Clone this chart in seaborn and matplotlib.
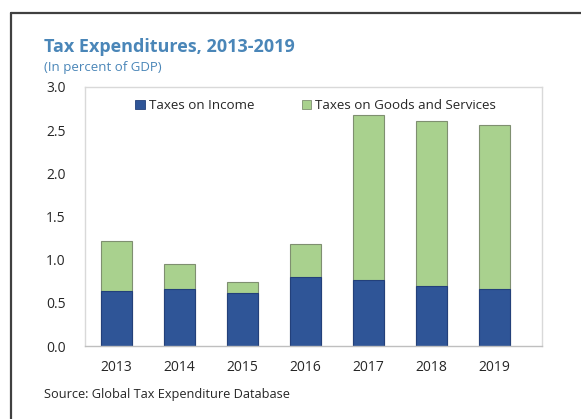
import matplotlib
matplotlib.use("Agg")
import matplotlib.pyplot as plt
from matplotlib.patches import Patch
from matplotlib.lines import Line2D
import seaborn as sns
import pandas as pd

years = ["2013", "2014", "2015", "2016", "2017", "2018", "2019"]
income = [0.64, 0.66, 0.61, 0.80, 0.77, 0.70, 0.66]
goods = [0.58, 0.29, 0.13, 0.38, 1.90, 1.91, 1.90]
y_ticks = [0.0, 0.5, 1.0, 1.5, 2.0, 2.5, 3.0]

sns.set_theme(style="white")
plt.rcParams["font.family"] = ["Open Sans", "DejaVu Sans"]

df = pd.DataFrame({"year": years, "income": income, "goods": goods})
df["total"] = df["income"] + df["goods"]

BLUE = "#2F5597"
GREEN = "#A9D18E"
TITLE = "#4A86B8"
TEXT = "#262626"

fig = plt.figure(figsize=(5.81, 4.19), dpi=100)
ax = fig.add_axes([0.1463, 0.1742, 0.7866, 0.6182])

# stacked bars: full height in green, income segment drawn over it in blue
sns.barplot(data=df, x="year", y="total", color=GREEN, width=0.5,
            edgecolor="#7F8F70", linewidth=0.8, saturation=1, ax=ax)
sns.barplot(data=df, x="year", y="income", color=BLUE, width=0.5,
            edgecolor="#23407A", linewidth=0.8, saturation=1, ax=ax)

ax.set_ylim(0, 3.0)
ax.set_xlim(-0.5, 6.75)
ax.set_yticks(y_ticks)
ax.set_yticklabels([f"{v:.1f}" for v in y_ticks])
ax.set_xlabel("")
ax.set_ylabel("")
ax.tick_params(axis="both", length=0, labelsize=10, colors=TEXT)
ax.tick_params(axis="x", pad=10)
ax.tick_params(axis="y", pad=14)
for s in ax.spines.values():
    s.set_visible(True)
    s.set_color("#D9D9D9")
    s.set_linewidth(1.0)
ax.spines["bottom"].set_color("#BFBFBF")

handles = [
    Patch(facecolor=BLUE, edgecolor="#23407A", linewidth=0.6, label="Taxes on Income"),
    Patch(facecolor=GREEN, edgecolor="#7F8F70", linewidth=0.6, label="Taxes on Goods and Services"),
]
leg = ax.legend(handles=handles, loc="upper center", bbox_to_anchor=(0.505, 1.0),
                ncol=2, frameon=False, fontsize=9.6, handlelength=0.7,
                handleheight=0.7, handletextpad=0.3, columnspacing=3.6)
for t in leg.get_texts():
    t.set_color(TEXT)

fig.text(0.0757, 0.888, "Tax Expenditures, 2013-2019", fontsize=13,
         fontweight="bold", color=TITLE, va="center", ha="left")
fig.text(0.0757, 0.839, "(In percent of GDP)", fontsize=9.5,
         color=TITLE, va="center", ha="left")
fig.text(0.0757, 0.059, "Source: Global Tax Expenditure Database", fontsize=9.2,
         color=TEXT, va="center", ha="left")

# outer frame around the exhibit
fig.add_artist(Line2D([11 / 581, 1.0], [1 - 13 / 419, 1 - 13 / 419],
                      transform=fig.transFigure, color="#404040", linewidth=1.6))
fig.add_artist(Line2D([11 / 581, 11 / 581], [1 - 13 / 419, 0.0],
                      transform=fig.transFigure, color="#404040", linewidth=1.6))

fig.savefig("out.png", dpi=100)
